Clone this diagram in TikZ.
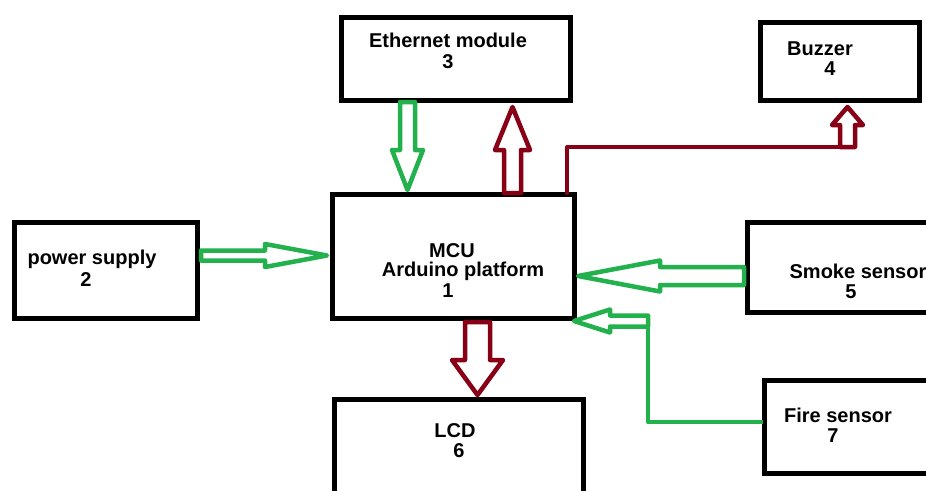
\documentclass[tikz,border=0pt]{standalone}
\usepackage{fontspec}
\setmainfont{Liberation Sans}
\definecolor{pgreen}{HTML}{22B14C}
\definecolor{pred}{HTML}{880015}
\tikzset{
  box/.style={draw=black, line width=5pt, minimum width=#1, inner sep=0pt},
  lbl/.style={anchor=base, inner sep=0pt, font=\fontsize{20}{22}\selectfont\bfseries},
  garrow/.style={draw=pgreen, line width=4.5pt, line join=round},
  rarrow/.style={draw=pred, line width=4.5pt, line join=round},
  rline/.style={draw=pred, line width=4pt, line cap=round, line join=round},
  gline/.style={draw=pgreen, line width=4.5pt, line join=round},
}
% vertical hollow arrow: style, x, ytail, ybase, ytip, halfshaft, halfhead
\newcommand\myvarrow[7]{\draw[#1] ({#2-#6},#3) -- ({#2-#6},#4) -- ({#2-#7},#4) -- (#2,#5) -- ({#2+#7},#4) -- ({#2+#6},#4) -- ({#2+#6},#3) -- cycle;}
% horizontal hollow arrow: style, y, xtail, xbase, xtip, halfshaft, halfhead
\newcommand\myharrow[7]{\draw[#1] (#3,{#2-#6}) -- (#4,{#2-#6}) -- (#4,{#2-#7}) -- (#5,#2) -- (#4,{#2+#7}) -- (#4,{#2+#6}) -- (#3,{#2+#6}) -- cycle;}
\begin{document}
\begin{tikzpicture}[x=1pt,y=-1pt]
\useasboundingbox (0,0) rectangle (926,490);
\clip (0,0) rectangle (926,490);
\fill[white] (0,0) rectangle (926,490);
% boxes
\node[box=229pt, minimum height=83pt] (eth) at (456,59) {};
\node[box=159pt, minimum height=78pt] (buzz) at (840,61.5) {};
\node[box=183pt, minimum height=96pt] (pow) at (106,270.5) {};
\node[box=242pt, minimum height=124pt] (mcu) at (453.5,256.5) {};
\node[box=190pt, minimum height=90pt] (smoke) at (842.5,267.5) {};
\node[box=173pt, minimum height=93pt] (fire) at (851,427) {};
\node[box=249pt, minimum height=98pt] (lcd) at (459,448.5) {};
% labels
\node[lbl] (t3a) at (448,47) {Ethernet module};
\node[lbl] (t3b) at (448,68) {3};
\node[lbl] (t4a) at (820,55) {Buzzer};
\node[lbl] (t4b) at (830,75) {4};
\node[lbl] (t2a) at (92,264) {power supply};
\node[lbl] (t2b) at (86,286) {2};
\node[lbl] (t1a) at (452,257) {MCU};
\node[lbl] (t1b) at (463,276) {Arduino platform};
\node[lbl] (t1c) at (448,297) {1};
\node[lbl] (t5a) at (858,278) {Smoke sensor};
\node[lbl] (t5b) at (851,298) {5};
\node[lbl] (t7a) at (838,422) {Fire sensor};
\node[lbl] (t7b) at (833,442) {7};
\node[lbl] (t6a) at (455,437) {LCD};
\node[lbl] (t6b) at (459,457) {6};
% arrows
\myvarrow{garrow}{407.5}{102}{150}{190}{7.5}{15.5}
\myvarrow{rarrow}{512.5}{193}{150}{107}{8.5}{17.5}
\myvarrow{rarrow}{847.5}{147}{125}{107}{7.5}{15.5}
\draw[rline] (567,193) -- (567,147) -- (840,147);
\myvarrow{rarrow}{477.5}{322}{360}{395}{12.5}{25.5}
\myharrow{garrow}{255.5}{201}{265}{327}{5}{11.5}
\myharrow{garrow}{276}{744}{660}{578}{9}{15.5}
\myharrow{garrow}{321}{648}{610}{574}{5.5}{11.5}
\draw[gline] (648,315.5) -- (648,422) -- (763,422);
\end{tikzpicture}
\end{document}
